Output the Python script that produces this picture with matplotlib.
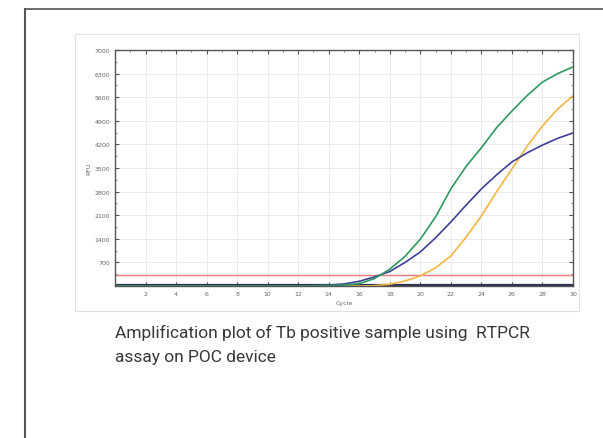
import matplotlib.pyplot as plt
import numpy as np
from matplotlib.patches import Rectangle
from matplotlib.lines import Line2D

# Data (RFU per cycle)
cycles = list(range(0, 31))
green = [0, 0, 0, 0, 0, 0, 0, 0, 0, 0, 0, 0, 0, 5, 10, 25, 70, 220, 500, 880,
         1390, 2050, 2880, 3550, 4100, 4700, 5190, 5650, 6050, 6300, 6500]
blue = [0, 0, 0, 0, 0, 0, 0, 0, 0, 0, 0, 0, 5, 10, 25, 60, 140, 270, 430, 700,
        1010, 1430, 1900, 2400, 2880, 3300, 3680, 3950, 4180, 4380, 4540]
orange = [0, 0, 0, 0, 0, 0, 0, 0, 0, 0, 0, 0, 0, 0, 0, 0, 0, 10, 50, 150,
          300, 540, 890, 1450, 2080, 2800, 3470, 4150, 4750, 5250, 5640]
baseline = [30] * 31
threshold = 330

yticks = [700, 1400, 2100, 2800, 3500, 4200, 4900, 5600, 6300, 7000]
xticks = list(range(2, 31, 2))
caption = ["Amplification plot of Tb positive sample using  RTPCR",
           "assay on POC device"]

W, H = 603, 439
fig = plt.figure(figsize=(W / 100, H / 100), dpi=100)

# outer frame (left and top edges only)
fig.add_artist(Line2D([25 / W, 25 / W], [0, 1 - 10 / H], color='#555555', lw=1.5))
fig.add_artist(Line2D([25 / W, 1], [1 - 10 / H, 1 - 10 / H], color='#555555', lw=1.2))
# faint border of the embedded chart image
fig.add_artist(Rectangle((75 / W, 1 - 312 / H), (579 - 75) / W, (312 - 35) / H,
                         fill=False, ec='#dde3e8', lw=0.8))

ax = fig.add_axes([115 / W, 1 - 287 / H, (573 - 115) / W, (287 - 51) / H])
ax.plot(cycles, baseline, color='#2b3256', lw=1.6)
ax.axhline(threshold, color='#e87a7a', lw=1.0)
ax.plot(cycles, orange, color='#f5b545', lw=1.2, solid_joinstyle='round')
ax.plot(cycles, blue, color='#3f3f9a', lw=1.2, solid_joinstyle='round')
ax.plot(cycles, green, color='#2f9a5e', lw=1.2, solid_joinstyle='round')

ax.set_xlim(0, 30)
ax.set_ylim(0, 7000)
ax.set_xticks(xticks)
ax.set_yticks(yticks)
ax.set_xticks(range(0, 31), minor=True)
ax.set_yticks(range(0, 7001, 350), minor=True)
ax.tick_params(which='both', direction='in', top=True, right=True,
               labelsize=4.5, labelcolor='#666666', color='#555555')
ax.tick_params(which='major', length=3, width=0.8)
ax.tick_params(which='minor', length=1.5, width=0.5)
ax.grid(True, which='major', color='#e8e8e8', lw=0.6)
for s in ax.spines.values():
    s.set_color('#555555')
    s.set_linewidth(1.0)
ax.set_xlabel('Cycle', fontsize=4.5, color='#666666', labelpad=3)
ax.set_ylabel('RFU', fontsize=4.5, color='#666666', labelpad=2)

for i, line in enumerate(caption):
    fig.text(115 / W, 1 - (338 + 24 * i) / H, line, fontsize=12.5,
             family='Roboto', color='#383838', va='baseline', ha='left')

fig.savefig('out.png', dpi=100)
